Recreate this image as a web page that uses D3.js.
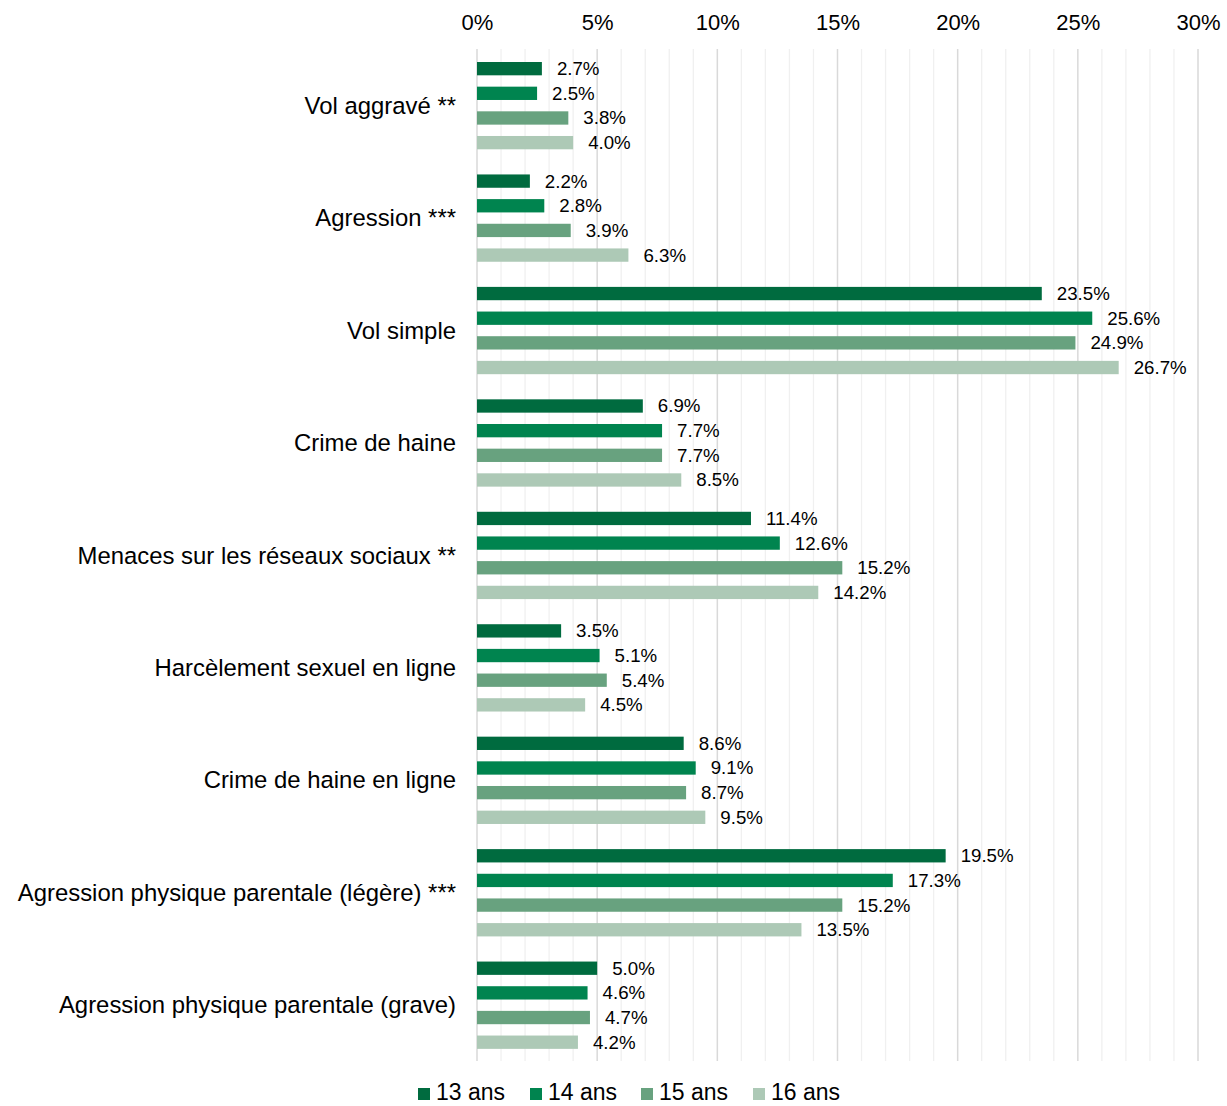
<!DOCTYPE html>
<html>
<head>
<meta charset="utf-8">
<script src="https://cdn.jsdelivr.net/npm/d3@7"></script>
<style>
  html, body { margin: 0; padding: 0; background: #fff; }
  svg { display: block; font-family: "Liberation Sans", Arial, sans-serif; }
</style>
</head>
<body>
<svg id="chart" width="1227" height="1106"></svg>
<script>
// Categories (top to bottom) and age groups
const categories = [
  "Vol aggravé **",
  "Agression ***",
  "Vol simple",
  "Crime de haine",
  "Menaces sur les réseaux sociaux **",
  "Harcèlement sexuel en ligne",
  "Crime de haine en ligne",
  "Agression physique parentale (légère) ***",
  "Agression physique parentale (grave)"
];
const series = ["13 ans", "14 ans", "15 ans", "16 ans"];

// Percentages per age group, in category order
const values13 = [2.7, 2.2, 23.5, 6.9, 11.4, 3.5, 8.6, 19.5, 5.0];
const values14 = [2.5, 2.8, 25.6, 7.7, 12.6, 5.1, 9.1, 17.3, 4.6];
const values15 = [3.8, 3.9, 24.9, 7.7, 15.2, 5.4, 8.7, 15.2, 4.7];
const values16 = [4.0, 6.3, 26.7, 8.5, 14.2, 4.5, 9.5, 13.5, 4.2];

const tickValues = [0, 5, 10, 15, 20, 25, 30];
const colors = ["#006b3f", "#00844f", "#68a27f", "#adc9b6"];

const allValues = [values13, values14, values15, values16];
const rows = categories.map((c, i) => ({
  category: c,
  items: series.map((s, j) => ({ series: s, value: allValues[j][i] }))
}));

const svg = d3.select("#chart");
const plotLeft = 477, plotRight = 1198, plotTop = 49, plotBottom = 1061;

const x = d3.scaleLinear().domain([0, 30]).range([plotLeft, plotRight]);
const y = d3.scaleBand().domain(categories).range([plotTop, plotBottom]).paddingInner(0).paddingOuter(0);
// Four bars per category, grouped inside each band
const yInner = d3.scaleBand().domain(series).range([13, 100.3]).paddingInner(0.46).paddingOuter(0);

// Gridlines: light every 1%, darker every 5%
const minor = d3.range(0, 31, 1).filter(v => v % 5 !== 0);
svg.append("g").selectAll("line").data(minor).join("line")
  .attr("x1", d => x(d)).attr("x2", d => x(d))
  .attr("y1", plotTop).attr("y2", plotBottom)
  .attr("stroke", "#f0f0f0").attr("stroke-width", 1.3);
svg.append("g").selectAll("line").data(tickValues).join("line")
  .attr("x1", d => x(d)).attr("x2", d => x(d))
  .attr("y1", plotTop).attr("y2", plotBottom)
  .attr("stroke", "#d9d9d9").attr("stroke-width", 1.5);

// Top axis labels
const xAxis = d3.axisTop(x).tickValues(tickValues).tickFormat(d => d + "%").tickSize(0).tickPadding(0);
const axG = svg.append("g").attr("transform", "translate(0,30)").call(xAxis);
axG.select(".domain").remove();
axG.selectAll("text").attr("font-size", 22).attr("fill", "#000")
  .attr("font-family", "Liberation Sans, Arial, sans-serif");

// Category labels
svg.append("g").selectAll("text").data(categories).join("text")
  .attr("x", 456).attr("y", d => y(d) + y.bandwidth() / 2)
  .attr("text-anchor", "end").attr("dominant-baseline", "central")
  .attr("font-size", 23.9).attr("fill", "#000")
  .text(d => d);

// Bars and value labels
const groups = svg.append("g").selectAll("g").data(rows).join("g")
  .attr("transform", d => `translate(0,${y(d.category)})`);

groups.selectAll("rect").data(d => d.items).join("rect")
  .attr("x", x(0)).attr("y", d => yInner(d.series))
  .attr("width", d => x(d.value) - x(0))
  .attr("height", yInner.bandwidth())
  .attr("fill", (d, i) => colors[i]);

groups.selectAll("text").data(d => d.items).join("text")
  .attr("x", d => x(d.value) + 15)
  .attr("y", d => yInner(d.series) + yInner.bandwidth() / 2)
  .attr("dominant-baseline", "central")
  .attr("font-size", 18.7).attr("fill", "#000")
  .text(d => d.value.toFixed(1) + "%");

// Legend
const legendX = [418, 530, 641, 753];
const lg = svg.append("g").selectAll("g").data(series).join("g")
  .attr("transform", (d, i) => `translate(${legendX[i]},0)`);
lg.append("rect").attr("x", 0).attr("y", 1088).attr("width", 12).attr("height", 12)
  .attr("fill", (d, i) => colors[i]);
lg.append("text").attr("x", 18).attr("y", 1100)
  .attr("font-size", 23).attr("fill", "#000").text(d => d);
</script>
</body>
</html>
